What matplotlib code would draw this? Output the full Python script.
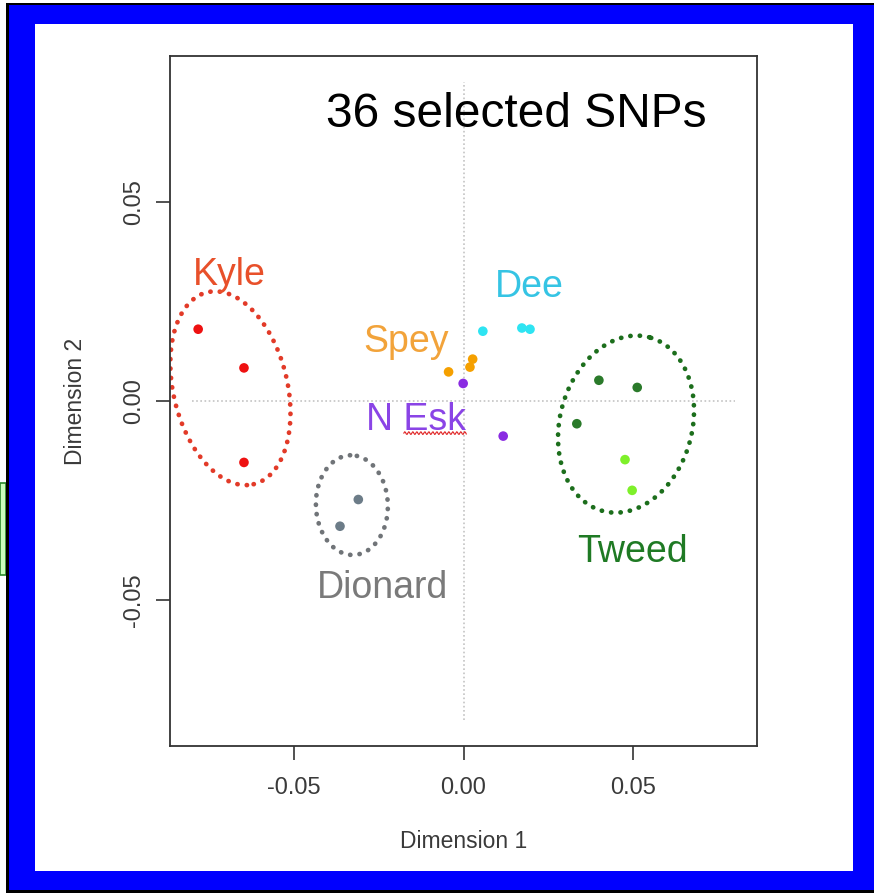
import numpy as np
import matplotlib.pyplot as plt
from matplotlib.patches import Rectangle
from matplotlib.lines import Line2D
from matplotlib.ticker import FormatStrFormatter

plt.rcParams['font.family'] = ['Liberation Sans', 'DejaVu Sans']

W, H = 874, 893

# MDS coordinates per river (36 SNPs)
kyle_x = [-0.0782, -0.0647, -0.0647]
kyle_y = [0.0180, 0.0083, -0.0154]
dionard_x = [-0.0310, -0.0364]
dionard_y = [-0.0247, -0.0314]
spey_x = [-0.0044, 0.0019, 0.0027]
spey_y = [0.0073, 0.0085, 0.0105]
nesk_x = [-0.0001, 0.0117]
nesk_y = [0.0044, -0.0088]
dee_x = [0.0057, 0.0172, 0.0196]
dee_y = [0.0175, 0.0183, 0.0180]
tweed_x = [0.0399, 0.0512, 0.0334]
tweed_y = [0.0052, 0.0034, -0.0057]
tweed2_x = [0.0476, 0.0497]
tweed2_y = [-0.0147, -0.0224]

labels = ['Kyle', 'Spey', 'N Esk', 'Dionard', 'Dee', 'Tweed']
label_x = [-0.0691, -0.0168, -0.0139, -0.0239, 0.0193, 0.0498]
label_y = [0.0290, 0.0122, -0.0073, -0.0494, 0.0260, -0.0404]
label_col = ['#e8502a', '#f2a33a', '#8a44e6', '#7a7a7a', '#35c4e4', '#1f7a24']

ticks = [-0.05, 0.0, 0.05]
lim = 0.0865

AX_W, AX_H = 587, 690


def px_rect(x0, y0, x1, y1, **kw):
    return Rectangle((x0 / W, (H - y1) / H), (x1 - x0) / W, (y1 - y0) / H,
                     transform=fig.transFigure, **kw)


def ring(ax, cx, cy, a, b, ang, color):
    # a, b in x-axis units; y offsets rescaled so the shape is not sheared
    t = np.linspace(0, 2 * np.pi, 400)
    th = np.radians(ang)
    k = AX_W / AX_H
    x = cx + a * np.cos(t) * np.cos(th) - b * np.sin(t) * np.sin(th)
    y = cy + (a * np.cos(t) * np.sin(th) + b * np.sin(t) * np.cos(th)) * k
    ax.plot(x, y, color=color, lw=3.4, ls=(0, (0.05, 1.95)),
            dash_capstyle='round', zorder=2)


fig = plt.figure(figsize=(W / 100, H / 100), dpi=100)

# slide frame
fig.add_artist(px_rect(0, 483, 6, 575, facecolor='#ccffbb', edgecolor='#2a8a2a', lw=1.2, zorder=-6))
fig.add_artist(px_rect(6, 3, 880, 893, facecolor='black', edgecolor='none', zorder=-5))
fig.add_artist(px_rect(9, 5, 880, 890, facecolor='#0000ff', edgecolor='none', zorder=-4))
fig.add_artist(px_rect(35, 24, 853, 871, facecolor='white', edgecolor='none', zorder=-3))

ax = fig.add_axes([170 / W, (H - 746) / H, AX_W / W, AX_H / H])
ax.set_xlim(-lim, lim)
ax.set_ylim(-lim, lim)

# reference lines through the origin
ax.plot([-0.08, 0.08], [0, 0], color='#c4c4c4', lw=1.2, ls=(0, (1, 1.5)), zorder=1)
ax.plot([0, 0], [-0.08, 0.08], color='#c4c4c4', lw=1.2, ls=(0, (1, 1.5)), zorder=1)

ring(ax, -0.0687, 0.0032, 0.0291, 0.0168, -76.4, '#e23a28')
ring(ax, -0.0329, -0.0261, 0.0147, 0.0106, 92, '#707478')
ring(ax, 0.0479, -0.0058, 0.0265, 0.0195, 75, '#1c6e1c')

pt = dict(s=48, edgecolors='none', zorder=3)
ax.scatter(kyle_x, kyle_y, color='#ee1111', **pt)
ax.scatter(dionard_x, dionard_y, color='#6c7c88', **pt)
ax.scatter(spey_x, spey_y, color='#f5a000', **pt)
ax.scatter(nesk_x, nesk_y, color='#8a2be2', **pt)
ax.scatter(dee_x, dee_y, color='#2ee4f2', **pt)
ax.scatter(tweed_x, tweed_y, color='#2a7a2a', **pt)
ax.scatter(tweed2_x, tweed2_y, color='#7ef02a', **pt)

txts = []
for name, x, y, c in zip(labels, label_x, label_y, label_col):
    txts.append(ax.text(x, y, name, color=c, fontsize=27, ha='center', va='baseline', zorder=4))

ax.text(0.0155, 0.0686, '36 selected SNPs', color='black', fontsize=34.5,
        ha='center', va='baseline', zorder=4)

ax.set_xticks(ticks)
ax.set_yticks(ticks)
ax.xaxis.set_major_formatter(FormatStrFormatter('%.2f'))
ax.yaxis.set_major_formatter(FormatStrFormatter('%.2f'))
ax.tick_params(direction='out', length=10, width=1.2, color='#333333',
               labelsize=17, labelcolor='#3a3a3a')
ax.tick_params(axis='x', pad=12)
ax.tick_params(axis='y', pad=8, labelrotation=90)
for lab in ax.get_yticklabels():
    lab.set_va('center')
for sp in ax.spines.values():
    sp.set_color('#333333')
    sp.set_linewidth(1.3)

ax.set_xlabel('Dimension 1', fontsize=16.5, color='#3a3a3a')
ax.set_ylabel('Dimension 2', fontsize=16.5, color='#3a3a3a')
ax.xaxis.set_label_coords(0.5, (746 - 841) / AX_H)
ax.xaxis.label.set_va('center')
ax.yaxis.set_label_coords((76 - 170) / AX_W, 0.5)
ax.yaxis.label.set_va('center')

# spell-check squiggle under "Esk"
r = fig.canvas.get_renderer()
bb = txts[2].get_window_extent(r)
base = ax.transData.transform((label_x[2], label_y[2]))[1]
sx = np.linspace(bb.x0 + 0.375 * bb.width, bb.x1, 80)
sy = base - 3 + 1.4 * np.sin((sx - sx[0]) / 4.0 * 2 * np.pi)
inv = fig.transFigure.inverted()
pts = inv.transform(np.column_stack([sx, sy]))
fig.add_artist(Line2D(pts[:, 0], pts[:, 1], color='#e02020', lw=0.8, zorder=5))

fig.savefig('out.png', dpi=100)
